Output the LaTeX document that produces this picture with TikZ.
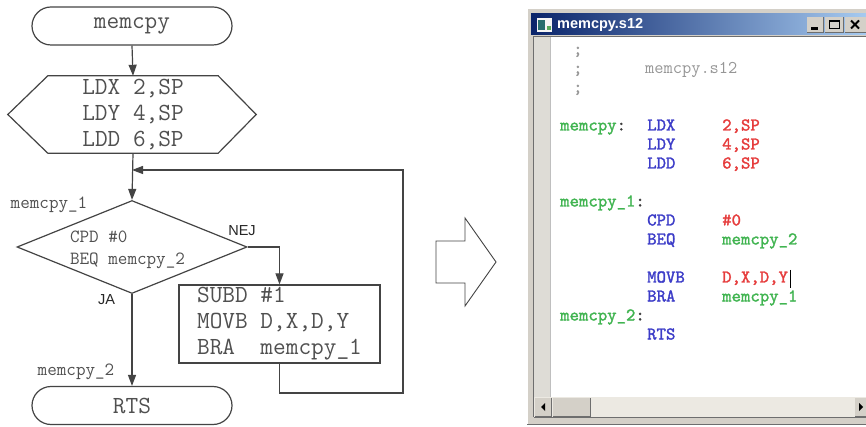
\documentclass[tikz,border=0pt]{standalone}
\usepackage{fontspec}
\setmainfont{Liberation Sans}
\newfontfamily\codefam{lmmono10-regular.otf}[AutoFakeBold=1.6]
\usetikzlibrary{shapes.geometric,arrows.meta,calc}
\definecolor{lc}{RGB}{68,68,68}
\definecolor{tc}{RGB}{80,80,80}
\definecolor{wgray}{RGB}{212,208,200}
\definecolor{wdark}{RGB}{110,110,110}
\definecolor{gut}{RGB}{222,220,214}
\definecolor{track}{RGB}{236,233,226}
\definecolor{tbl}{RGB}{10,36,106}
\definecolor{tbr}{RGB}{166,202,240}
\definecolor{cgreen}{RGB}{64,180,80}
\definecolor{cblue}{RGB}{60,60,200}
\definecolor{cred}{RGB}{230,60,60}
\definecolor{cgray}{RGB}{150,150,150}
\definecolor{ccol}{RGB}{60,60,60}
\definecolor{iconteal}{RGB}{40,110,110}
\definecolor{icongreen}{RGB}{90,170,90}
\newcommand\bigmono{\ttfamily\fontsize{24.6}{26}\selectfont}
\newcommand\midmono{\ttfamily\fontsize{18.6}{22}\selectfont}
\newcommand\codef{\codefam\bfseries\fontsize{17.9}{19}\selectfont}
\tikzset{
  flow/.style={draw=lc, line width=1.2pt},
  conn/.style={draw=lc, line width=1.2pt, -{Triangle[length=11pt,width=8pt]}},
  term/.style={flow, rectangle, rounded corners=19pt, minimum width=200pt, minimum height=38pt, inner sep=0pt, font=\bigmono, text=tc},
  procbox/.style={flow, rectangle, minimum width=201pt, minimum height=78pt, inner sep=0pt, align=left, font=\bigmono, text=tc},
  hexbox/.style={rectangle, minimum width=170pt, minimum height=77pt, inner sep=0pt, align=center, font=\bigmono, text=tc},
  decision/.style={flow, diamond, aspect=2.47, minimum width=230pt, minimum height=93pt, inner sep=0pt},
  dectxt/.style={align=left, font=\midmono, text=tc, inner sep=0pt},
  lbl/.style={font=\fontsize{14.5}{16}\selectfont, text=black!85, inner sep=0pt},
  slbl/.style={font=\midmono, text=tc, inner sep=0pt},
  code/.style={anchor=base west, inner sep=0pt, font=\codef},
}
\begin{document}
\begin{tikzpicture}[x=1pt,y=-1pt]
\useasboundingbox (0,0) rectangle (866,427);
\fill[white] (0,0) rectangle (866,427);

% ---------------- flowchart ----------------
\node[term] (start) at (132,26) {memcpy};
\node[hexbox] (hex) at (133,114.5) {LDX 2,SP\\LDY 4,SP\\LDD 6,SP};
\draw[flow] (hex.north west) -- (hex.north east) -- ($(hex.east)+(38,0)$) -- (hex.south east) -- (hex.south west) -- ($(hex.west)+(-40,0)$) -- cycle;
\node[decision] (dec) at (132,247) {};
\node[dectxt] (dectext) at (127.5,250) {CPD \#0\\BEQ memcpy\_2};
\node[procbox] (loop) at (279.5,324) {SUBD \#1\\MOVB D,X,D,Y\\BRA\ \ memcpy\_1};
\node[term] (rts) at (132,405.5) {RTS};

\node[slbl] (l1) at (49,205) {memcpy\_1};
\node[slbl] (l2) at (76,372) {memcpy\_2};
\node[lbl] (nej) at (242,230.5) {NEJ};
\node[lbl] (ja) at (106.5,300) {JA};

\coordinate (merge) at (132,170);
\coordinate (fbc) at (403,393);

\draw[conn] (start.south) -- (hex.north);
\draw[conn] (hex.south) -- (dec.north);
\draw[conn] (dec.east) -| (loop.north);
\draw[conn] (dec.south) -- (rts.north);
\draw[conn] (loop.south) |- (fbc) |- (merge);

% ---------------- block arrow ----------------
\draw[lc, line width=0.9pt, line join=miter] (436,241) -- (465,241) -- (465,218) -- (496,262) -- (465,306) -- (465,283) -- (436,283) -- cycle;

% ---------------- editor window ----------------
\fill[wgray] (527,8) rectangle (866,425);
\draw[white, line width=1pt] (527.5,424) -- (527.5,8.5) -- (866,8.5);
\draw[wdark, line width=1pt] (527,424.5) -- (866,424.5);
\shade[left color=tbl, right color=tbr] (531,13.5) rectangle (866,35);
% icon
\fill[white!92!gray] (537,18) rectangle (552,32);
\fill[iconteal] (538,20) rectangle (545,30);
\fill[icongreen] (547,26) rectangle (551,30);
\node[anchor=west, text=white, font=\bfseries\fontsize{14.5}{16}\selectfont, inner sep=0pt] (title) at (557,25) {memcpy.s12};
% buttons
\fill[wgray] (807,17) rectangle (823,32);
\draw[wdark] (807,32) -- (823,32) -- (823,17);
\fill[black] (811,27.5) rectangle (818,30);
\fill[wgray] (825,17) rectangle (843,32);
\draw[wdark] (825,32) -- (843,32) -- (843,17);
\draw[black, line width=1pt] (829,20.5) rectangle (839,29);
\draw[black, line width=2pt] (829,21) -- (839,21);
\fill[wgray] (845,17) rectangle (866,32);
\draw[wdark] (845,32) -- (866,32);
\draw[black, line width=1.8pt] (851,20.5) -- (859,28.5) (859,20.5) -- (851,28.5);
% client area
\fill[white] (550,37) rectangle (866,397);
\fill[gut] (534,37) rectangle (550,397);
\draw[wdark, line width=1.2pt] (533.5,417) -- (533.5,36.5) -- (866,36.5);
\draw[gray!50, line width=0.6pt] (550,37) -- (550,397);
% scrollbar
\fill[track] (534,397) rectangle (866,417);
\fill[wgray] (535,398) rectangle (551,416);
\draw[wdark] (535,416) -- (551,416) -- (551,398);
\fill[black] (541,407) -- (545,403) -- (545,411) -- cycle;
\fill[wgray] (553,398) rectangle (590,416);
\draw[wdark, line width=1pt] (553,416) -- (590,416) -- (590,398);
\fill[wgray] (855,398) rectangle (866,416);
\draw[wdark] (855,416) -- (866,416);
\fill[black] (859,403) -- (863,407) -- (859,411) -- cycle;
\draw[wdark, line width=0.8pt] (534,417.5) -- (866,417.5);

% code text
\node[code, text=cgray] (c0) at (573,54.5) {;};
\node[code, text=cgray] (c1) at (573,73.5) {;};
\node[code, text=cgray, font=\ttfamily\fontsize{17.9}{19}\selectfont] (c1b) at (645,73.5) {memcpy.s12};
\node[code, text=cgray] (c2) at (573,92.5) {;};
\node[code] (c4a) at (560,130.5) {\textcolor{cgreen}{memcpy}\textcolor{ccol}{:}};
\node[code, text=cblue] (c4b) at (647,130.5) {LDX};
\node[code, text=cred] (c4c) at (722,130.5) {2,SP};
\node[code, text=cblue] (c5b) at (647,149.5) {LDY};
\node[code, text=cred] (c5c) at (722,149.5) {4,SP};
\node[code, text=cblue] (c6b) at (647,168.5) {LDD};
\node[code, text=cred] (c6c) at (722,168.5) {6,SP};
\node[code] (c8a) at (560,206.5) {\textcolor{cgreen}{memcpy\_1}\textcolor{ccol}{:}};
\node[code, text=cblue] (c9b) at (647,225.5) {CPD};
\node[code, text=cred] (c9c) at (722,225.5) {\#0};
\node[code, text=cblue] (c10b) at (647,244.5) {BEQ};
\node[code, text=cgreen] (c10c) at (722,244.5) {memcpy\_2};
\node[code, text=cblue] (c12b) at (647,282.5) {MOVB};
\node[code, text=cred] (c12c) at (722,282.5) {D,X,D,Y};
\draw[black, line width=0.9pt] (790,270) -- (790,288);
\node[code, text=cblue] (c13b) at (647,301.5) {BRA};
\node[code, text=cgreen] (c13c) at (722,301.5) {memcpy\_1};
\node[code] (c14a) at (560,320.5) {\textcolor{cgreen}{memcpy\_2}\textcolor{ccol}{:}};
\node[code, text=cblue] (c15b) at (647,339.5) {RTS};
\end{tikzpicture}
\end{document}
